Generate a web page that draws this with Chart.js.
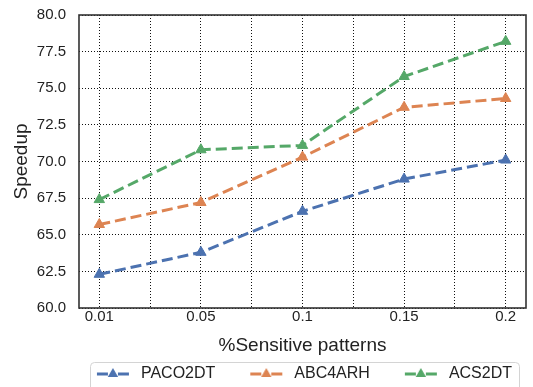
<!DOCTYPE html>
<html>
<head>
<meta charset="utf-8">
<script src="https://cdn.jsdelivr.net/npm/chart.js@4.4.1/dist/chart.umd.min.js"></script>
<style>
  body { margin: 0; background: #fff; }
  #wrap { width: 533px; height: 387px; }
</style>
</head>
<body>
<div id="wrap"><canvas id="grafica" width="533" height="387"></canvas></div>
<script>
// datos
const categorias = ['0.01', '0.05', '0.1', '0.15', '0.2'];
const paco2dt = [62.3, 63.8, 66.6, 68.8, 70.1];
const abc4arh = [65.7, 67.2, 70.3, 73.7, 74.3];
const acs2dt = [67.4, 70.8, 71.1, 75.8, 78.2];
const ticksY = [60, 62.5, 65, 67.5, 70, 72.5, 75, 77.5, 80];

const series = [
  { label: 'PACO2DT', valores: paco2dt, color: '#4C72B0' },
  { label: 'ABC4ARH', valores: abc4arh, color: '#DD8452' },
  { label: 'ACS2DT', valores: acs2dt, color: '#55A868' },
];

const FUENTE = "'Liberation Sans', Arial, sans-serif";
const HUECO = 11; // espacio en blanco a la izquierda del icono de leyenda

// icono de la leyenda: linea discontinua con triangulo
function iconoLeyenda(color) {
  const c = document.createElement('canvas');
  c.width = 40 + HUECO; c.height = 16;
  const ctx = c.getContext('2d');
  const x0 = HUECO;
  ctx.strokeStyle = color; ctx.lineWidth = 3;
  ctx.beginPath();
  ctx.moveTo(x0 + 4, 8); ctx.lineTo(x0 + 15, 8);
  ctx.moveTo(x0 + 25, 8); ctx.lineTo(x0 + 36, 8);
  ctx.stroke();
  const r = 6, cx = x0 + 20;
  ctx.fillStyle = color;
  ctx.beginPath();
  ctx.moveTo(cx, 8 - r);
  ctx.lineTo(cx + r * Math.sin(Math.PI * 2 / 3), 8 - r * Math.cos(Math.PI * 2 / 3));
  ctx.lineTo(cx + r * Math.sin(Math.PI * 4 / 3), 8 - r * Math.cos(Math.PI * 4 / 3));
  ctx.closePath();
  ctx.fill();
  return c;
}

// marco del area y caja de la leyenda
const marco = {
  id: 'marco',
  beforeDatasetsDraw(chart) {
    const { ctx, chartArea: a } = chart;
    ctx.save();
    ctx.strokeStyle = '#333';
    ctx.lineWidth = 1.6;
    ctx.strokeRect(a.left, a.top, a.right - a.left, a.bottom - a.top);
    ctx.restore();
  },
  afterDraw(chart) {
    const hb = chart.legend.legendHitBoxes;
    if (!hb || !hb.length) return;
    const ctx = chart.ctx;
    const ult = hb[hb.length - 1];
    const x1 = Math.round(hb[0].left + HUECO - 3), x2 = Math.round(ult.left + ult.width + 7);
    const y1 = Math.round(hb[0].top - 4), y2 = chart.height + 10;
    ctx.save();
    ctx.strokeStyle = '#d4d4d4';
    ctx.lineWidth = 1;
    ctx.beginPath();
    ctx.roundRect(x1 + 0.5, y1 + 0.5, x2 - x1, y2 - y1, 4);
    ctx.stroke();
    ctx.restore();
  }
};

new Chart(document.getElementById('grafica'), {
  type: 'line',
  data: {
    datasets: series.map(s => ({
      label: s.label,
      data: s.valores.map((v, i) => ({ x: i, y: v })),
      borderColor: s.color,
      backgroundColor: s.color,
      borderWidth: 3,
      borderDash: [11, 5],
      pointStyle: 'triangle',
      pointRadius: 6,
      pointBorderWidth: 1,
      fill: false,
      tension: 0,
    }))
  },
  options: {
    responsive: false,
    animation: false,
    layout: { padding: { top: 15, right: 1, left: 0, bottom: -5 } },
    plugins: {
      tooltip: { enabled: false },
      legend: {
        position: 'bottom',
        align: 'end',
        labels: {
          usePointStyle: true,
          pointStyleWidth: 40 + HUECO,
          padding: 20,
          font: { family: FUENTE, size: 16 },
          color: '#222',
          generateLabels: (chart) => chart.data.datasets.map((ds, i) => ({
            text: ds.label,
            pointStyle: iconoLeyenda(ds.borderColor),
            fillStyle: ds.borderColor,
            strokeStyle: ds.borderColor,
            lineWidth: 0,
            hidden: false,
            fontColor: '#222',
            datasetIndex: i,
          })),
        },
      },
    },
    scales: {
      x: {
        type: 'linear',
        min: -0.2,
        max: categorias.length - 1 + 0.2,
        afterBuildTicks: (axis) => {
          const t = [];
          for (let i = 0; i <= (categorias.length - 1) * 2; i++) t.push({ value: i / 2 });
          axis.ticks = t;
        },
        ticks: {
          autoSkip: false,
          maxRotation: 0,
          padding: 0,
          color: '#222',
          font: { family: FUENTE, size: 15 },
          callback: (v) => Number.isInteger(v) ? categorias[v] : '',
        },
        grid: { color: '#111', lineWidth: 1, drawTicks: false },
        border: { display: false, dash: [1, 2] },
        title: {
          display: true,
          text: '%Sensitive patterns',
          color: '#222',
          font: { family: FUENTE, size: 19 },
          padding: { top: 8.6, bottom: -11.4 },
        },
      },
      y: {
        min: 60,
        max: 80,
        afterBuildTicks: (axis) => { axis.ticks = ticksY.map(v => ({ value: v })); },
        ticks: {
          padding: 4,
          color: '#222',
          font: { family: FUENTE, size: 15 },
          callback: (v) => v.toFixed(1),
        },
        grid: { color: '#111', lineWidth: 1, drawTicks: true, tickLength: 9, tickColor: 'rgba(0,0,0,0)' },
        border: { display: false, dash: [1, 2] },
        title: {
          display: true,
          text: 'Speedup',
          color: '#222',
          font: { family: FUENTE, size: 19 },
          padding: { top: 10.6, bottom: -0.6 },
        },
      },
    },
  },
  plugins: [marco],
});
</script>
</body>
</html>
